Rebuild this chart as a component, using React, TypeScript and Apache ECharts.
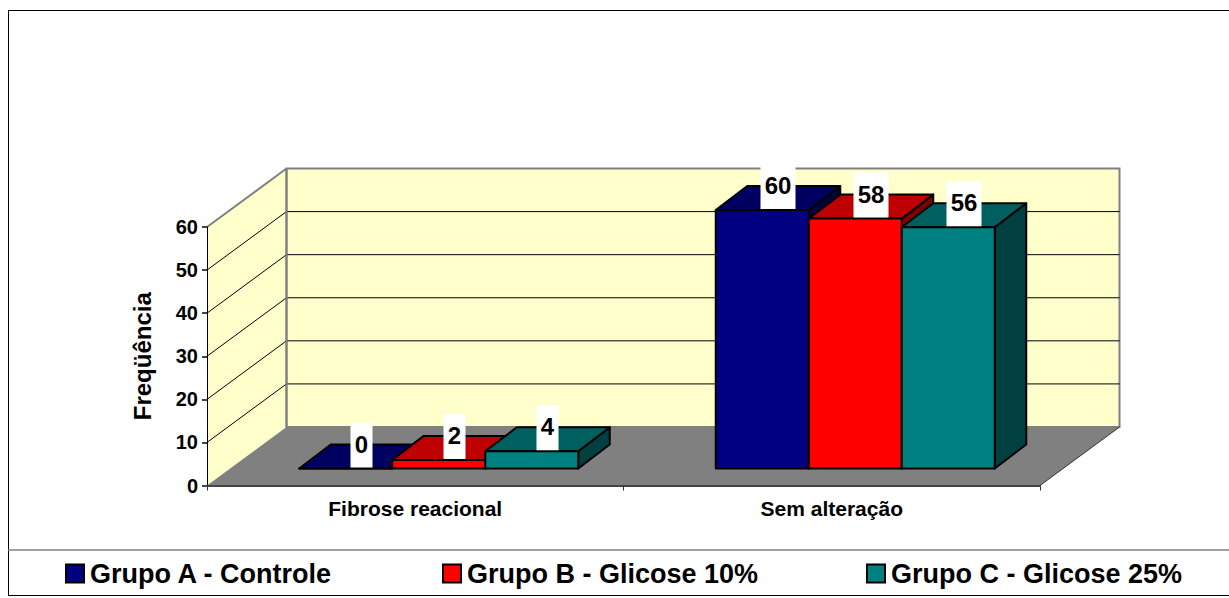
import React, { useEffect, useRef } from "react";
import * as echarts from "echarts";

const categories = ["Fibrose reacional", "Sem alteração"];
const seriesNames = ["Grupo A - Controle", "Grupo B - Glicose 10%", "Grupo C - Glicose 25%"];
const grupoA = [0, 60];
const grupoB = [2, 58];
const grupoC = [4, 56];
const gridValues = [10, 20, 30, 40, 50, 60];
const frontColors = ["#000080", "#FF0000", "#008080"];
const topColors = ["#000060", "#BF0000", "#006060"];
const sideColors = ["#000040", "#800000", "#004040"];

const FONT = '"Liberation Sans", Arial, sans-serif';
const WALL_DX = 79.5;
const WALL_DY = -58.5;
const BAR_DX = 23.5;
const BAR_DY = -17;
const DEPTH_DX = 31.5;
const DEPTH_DY = -24;
const BAR_RATIO = 93 / 416.5;

function backdrop(_p: any, api: any) {
  const o = api.coord([0, 0]);
  const band = api.size([1, 0])[0];
  const x0 = o[0] - band / 2;
  const x1 = x0 + band * categories.length;
  const y0 = o[1];
  const yTop = api.coord([0, 60])[1];
  const children: any[] = [];
  const line = (a: number[], b: number[], stroke: string, lineWidth: number) => ({
    type: "line",
    shape: { x1: a[0], y1: a[1], x2: b[0], y2: b[1] },
    style: { stroke, lineWidth },
  });
  const bx0 = x0 + WALL_DX;
  const bx1 = x1 + WALL_DX;
  children.push({
    type: "polygon",
    shape: { points: [[x0, y0], [bx0, y0 + WALL_DY], [bx0, yTop + WALL_DY], [x0, yTop]] },
    style: { fill: "#FFFFCC" },
  });
  children.push({
    type: "rect",
    shape: { x: bx0, y: yTop + WALL_DY, width: bx1 - bx0, height: y0 - yTop },
    style: { fill: "#FFFFCC", stroke: "#808080", lineWidth: 2 },
  });
  children.push({
    type: "polygon",
    shape: { points: [[x0, y0], [x1, y0], [bx1, y0 + WALL_DY], [bx0, y0 + WALL_DY]] },
    style: { fill: "#808080" },
  });
  for (const v of gridValues.slice(0, -1)) {
    const y = api.coord([0, v])[1];
    children.push(line([x0, y], [bx0, y + WALL_DY], "#000", 1));
    children.push(line([bx0, y + WALL_DY], [bx1, y + WALL_DY], "#000", 1));
  }
  children.push(line([x0, yTop], [bx0, yTop + WALL_DY], "#808080", 2));
  children.push(line([bx0, y0 + WALL_DY], [bx0, yTop + WALL_DY], "#808080", 2));
  children.push(line([x1, y0], [bx1, y0 + WALL_DY], "#333", 1));
  return { type: "group", children };
}

function makeBar(index: number) {
  return (_p: any, api: any) => {
    const cat = api.value(0);
    const val = api.value(1);
    const c = api.coord([cat, 0]);
    const t = api.coord([cat, val]);
    const band = api.size([1, 0])[0];
    const w = band * BAR_RATIO;
    const x = c[0] - 1.5 * w + index * w + BAR_DX;
    const yb = c[1] + BAR_DY;
    const yt = t[1] + BAR_DY;
    const border = { stroke: "#000", lineWidth: 2, lineJoin: "round" };
    const label = String(val);
    const boxW = label.length * 13 + 9;
    const boxH = 45;
    const boxX = x + w / 2 + DEPTH_DX / 2 - boxW / 2;
    const boxY = yt - boxH - 1;
    return {
      type: "group",
      children: [
        {
          type: "polygon",
          shape: { points: [[x + w, yb], [x + w + DEPTH_DX, yb + DEPTH_DY], [x + w + DEPTH_DX, yt + DEPTH_DY], [x + w, yt]] },
          style: { fill: sideColors[index], ...border },
        },
        {
          type: "polygon",
          shape: { points: [[x, yt], [x + DEPTH_DX, yt + DEPTH_DY], [x + w + DEPTH_DX, yt + DEPTH_DY], [x + w, yt]] },
          style: { fill: topColors[index], ...border },
        },
        {
          type: "rect",
          shape: { x, y: yt, width: w, height: yb - yt },
          style: { fill: frontColors[index], ...border },
        },
        {
          type: "rect",
          z2: 50,
          shape: { x: boxX, y: boxY, width: boxW, height: boxH },
          style: { fill: "#FFFFFF" },
        },
        {
          type: "text",
          z2: 51,
          style: {
            x: boxX + boxW / 2,
            y: boxY + boxH / 2 - 1,
            text: label,
            align: "center",
            verticalAlign: "middle",
            fill: "#000",
            font: `bold 24px ${FONT}`,
          },
        },
      ],
    };
  };
}

const legendText = { fontFamily: FONT, fontWeight: "bold" as const, fontSize: 27, color: "#000" };
const legendLefts = [65, 442, 866];

export default function App() {
  const ref = useRef<HTMLDivElement>(null);
  useEffect(() => {
    document.body.style.margin = "0";
    const chart = echarts.init(ref.current!, undefined, { renderer: "svg" });
    const values = [grupoA, grupoB, grupoC];
    chart.setOption({
      animation: false,
      backgroundColor: "#FFFFFF",
      grid: { left: 207, top: 227, width: 833, height: 258.5 },
      xAxis: {
        type: "category",
        data: categories,
        z: 5,
        axisLine: { lineStyle: { color: "#444", width: 2 } },
        axisTick: { show: true, length: 5, lineStyle: { color: "#333", width: 1 } },
        axisLabel: { fontFamily: FONT, fontWeight: "bold", fontSize: 21, color: "#000", margin: 12 },
      },
      yAxis: {
        type: "value",
        min: 0,
        max: 60,
        interval: 10,
        z: 5,
        name: "Freqüência",
        nameLocation: "middle",
        nameGap: 53,
        nameRotate: 90,
        nameTextStyle: { fontFamily: FONT, fontWeight: "bold", fontSize: 24, color: "#000" },
        splitLine: { show: false },
        axisLine: { show: true, lineStyle: { color: "#000", width: 1 } },
        axisTick: { show: true, length: 5, lineStyle: { color: "#444", width: 2 } },
        axisLabel: { fontFamily: FONT, fontWeight: "bold", fontSize: 20, color: "#000", margin: 9 },
      },
      legend: legendLefts.map((left, i) => ({
        left,
        top: 560,
        padding: 0,
        data: [seriesNames[i]],
        icon: "rect",
        itemWidth: 18,
        itemHeight: 18,
        itemGap: 0,
        selectedMode: false,
        textStyle: { ...legendText, padding: [0, 0, 0, 1] },
      })),
      graphic: [
        { type: "line", silent: true, shape: { x1: 8, y1: 10.5, x2: 1229, y2: 10.5 }, style: { stroke: "#000", lineWidth: 1 } },
        { type: "line", silent: true, shape: { x1: 8.5, y1: 10, x2: 8.5, y2: 596 }, style: { stroke: "#000", lineWidth: 1 } },
        { type: "line", silent: true, shape: { x1: 8, y1: 550, x2: 1229, y2: 550 }, style: { stroke: "#808080", lineWidth: 1.5 } },
        { type: "line", silent: true, shape: { x1: 8, y1: 595.5, x2: 1229, y2: 595.5 }, style: { stroke: "#000", lineWidth: 1 } },
      ],
      series: [
        {
          type: "custom",
          name: "backdrop",
          z: -1,
          silent: true,
          clip: false,
          renderItem: backdrop,
          encode: { x: 0, y: 1 },
          data: [[0, 0]],
        },
        ...seriesNames.map((name, i) => ({
          type: "custom",
          name,
          z: 10 + i,
          silent: true,
          clip: false,
          renderItem: makeBar(i),
          encode: { x: 0, y: 1 },
          itemStyle: { color: frontColors[i], borderColor: "#000", borderWidth: 2 },
          data: categories.map((_c, k) => [k, values[i][k]]),
        })),
      ],
    });
    return () => chart.dispose();
  }, []);
  return <div ref={ref} style={{ position: "fixed", left: 0, top: 0, width: 1229, height: 598 }} />;
}
